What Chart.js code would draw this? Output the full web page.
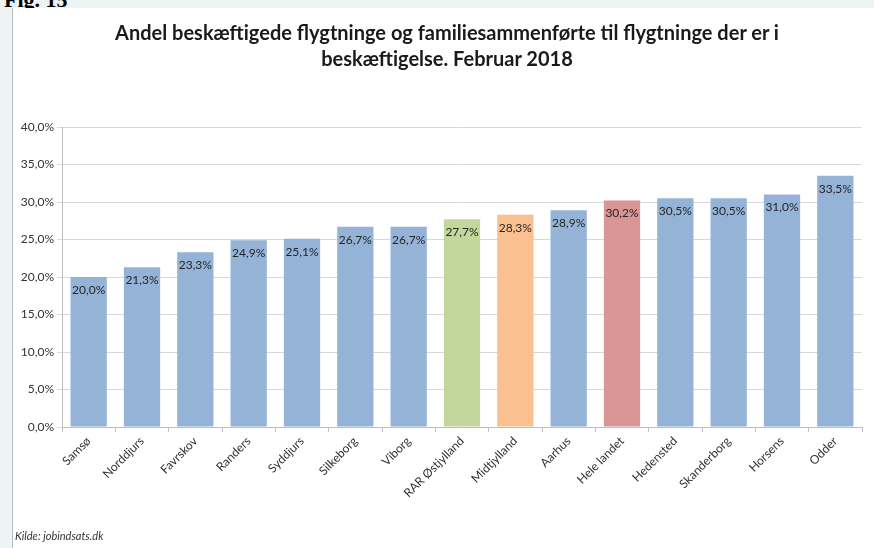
<!DOCTYPE html>
<html>
<head>
<meta charset="utf-8">
<script src="https://cdn.jsdelivr.net/npm/chart.js@4.4.1/dist/chart.umd.min.js"></script>
<style>
  html, body { margin:0; padding:0; width:874px; height:548px; overflow:hidden; background:#eef4f4; }
  #fig { position:absolute; left:4px; top:-13px; font-family:"Liberation Serif", serif; font-weight:bold; font-size:22px; color:#000; }
  #panel { position:absolute; left:12px; top:8px; width:862px; height:540px; background:#fff; border-left:1px solid #b8bcbc; box-sizing:border-box; }
  #title { position:absolute; left:0; top:19px; width:894px; text-align:center; font-family:Lato, "Open Sans", sans-serif; font-weight:bold; font-size:20px; line-height:26px; color:#1a1a1a; }
  #src { position:absolute; left:15px; top:529px; font-family:Lato, "Open Sans", sans-serif; font-style:italic; font-size:11px; color:#333; }
  #wrap { position:absolute; left:12px; top:8px; width:862px; height:540px; }
</style>
</head>
<body>
<div id="fig">Fig. 15</div>
<div id="panel"></div>
<div id="wrap"><canvas id="c" width="862" height="540"></canvas></div>
<div id="title">Andel beskæftigede flygtninge og familiesammenførte til flygtninge der er i<br>beskæftigelse. Februar 2018</div>
<div id="src">Kilde: jobindsats.dk</div>
<script>
const categories = ["Samsø","Norddjurs","Favrskov","Randers","Syddjurs","Silkeborg","Viborg","RAR Østjylland","Midtjylland","Aarhus","Hele landet","Hedensted","Skanderborg","Horsens","Odder"];
const values = [20.0, 21.3, 23.3, 24.9, 25.1, 26.7, 26.7, 27.7, 28.3, 28.9, 30.2, 30.5, 30.5, 31.0, 33.5];
const barColors = ["#95b3d7","#95b3d7","#95b3d7","#95b3d7","#95b3d7","#95b3d7","#95b3d7","#c3d69b","#fac090","#95b3d7","#d99694","#95b3d7","#95b3d7","#95b3d7","#95b3d7"];
const yTicks = [0, 5, 10, 15, 20, 25, 30, 35, 40];

const fmt = v => v.toFixed(1).replace('.', ',') + '%';

const labelPlugin = {
  id: 'barLabels',
  afterDatasetsDraw(chart) {
    const ctx = chart.ctx;
    const meta = chart.getDatasetMeta(0);
    ctx.save();
    ctx.font = '12px Lato, "Open Sans", sans-serif';
    ctx.fillStyle = '#262626';
    ctx.textAlign = 'center';
    ctx.textBaseline = 'middle';
    meta.data.forEach((bar, i) => {
      ctx.fillText(fmt(values[i]), bar.x, bar.y + 13);
    });
    ctx.restore();
  }
};

new Chart(document.getElementById('c'), {
  type: 'bar',
  data: {
    labels: categories,
    datasets: [{
      data: values,
      backgroundColor: barColors,
      borderWidth: 0,
      barPercentage: 0.68,
      categoryPercentage: 1.0
    }]
  },
  options: {
    responsive: false,
    animation: false,
    layout: { padding: { top: 119, right: 12, left: 0, bottom: 0 } },
    plugins: { legend: { display: false }, tooltip: { enabled: false }, title: { display: false } },
    scales: {
      x: {
        offset: true,
        grid: { display: true, drawOnChartArea: false, drawTicks: true, tickLength: 5, color: '#bfbfbf', offset: true },
        border: { display: true, color: '#bfbfbf' },
        ticks: {
          color: '#333',
          font: { family: 'Lato, "Open Sans", sans-serif', size: 12 },
          maxRotation: 45, minRotation: 45, autoSkip: false, padding: 2
        },
        afterFit(scale) { scale.height = 121; }
      },
      y: {
        min: 0, max: 40,
        afterBuildTicks(scale) { scale.ticks = yTicks.map(v => ({ value: v })); },
        grid: { color: '#d9d9d9', drawTicks: true, tickLength: 5, lineWidth: 1 },
        border: { display: true, color: '#bfbfbf' },
        ticks: {
          color: '#333',
          font: { family: 'Lato, "Open Sans", sans-serif', size: 12 },
          padding: 3,
          callback: v => fmt(v)
        },
        afterFit(scale) { scale.width = 50; }
      }
    }
  },
  plugins: [labelPlugin]
});
</script>
</body>
</html>
